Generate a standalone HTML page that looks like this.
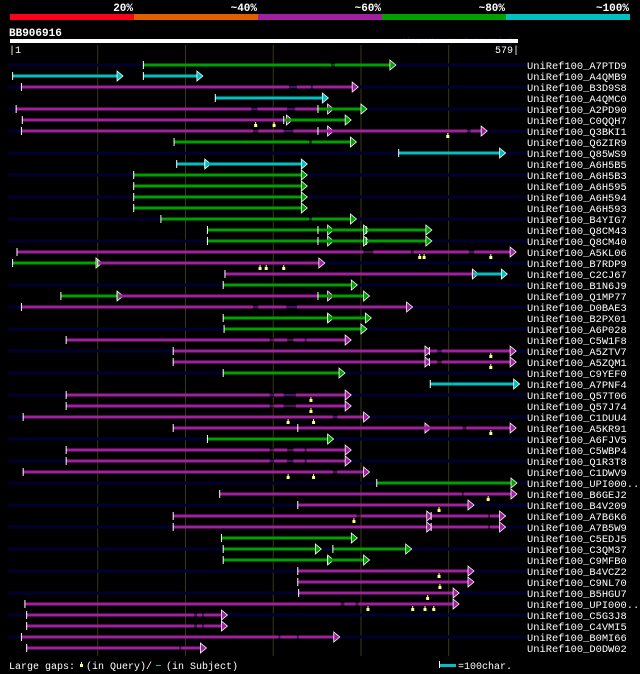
<!DOCTYPE html>
<html><head><meta charset="utf-8">
<style>
html,body{margin:0;padding:0;background:#000;}
body{width:640px;height:674px;overflow:hidden;}
svg{display:block;}
text{font-family:"Liberation Mono","DejaVu Sans Mono",monospace;}
</style></head>
<body>
<svg id="chart" width="640" height="674" viewBox="0 0 640 674" xmlns="http://www.w3.org/2000/svg">
  <g>
    <rect x="10" y="14" width="124" height="6" fill="#ff0018"/>
    <rect x="134" y="14" width="124" height="6" fill="#e06000"/>
    <rect x="258" y="14" width="124" height="6" fill="#a020a0"/>
    <rect x="382" y="14" width="124" height="6" fill="#00a000"/>
    <rect x="506" y="14" width="124" height="6" fill="#00c0c0"/>
    <text x="133" y="11" fill="#fff" font-size="11" font-weight="bold" text-anchor="end">20%</text>
    <text x="257" y="11" fill="#fff" font-size="11" font-weight="bold" text-anchor="end">~40%</text>
    <text x="381" y="11" fill="#fff" font-size="11" font-weight="bold" text-anchor="end">~60%</text>
    <text x="505" y="11" fill="#fff" font-size="11" font-weight="bold" text-anchor="end">~80%</text>
    <text x="629" y="11" fill="#fff" font-size="11" font-weight="bold" text-anchor="end">~100%</text>
  </g>
  <text x="9" y="36" fill="#fff" font-size="11" font-weight="bold">BB906916</text>
  <text x="402" y="43" fill="#10104a" font-size="8">AlignView.pm Beta rel.7</text>
  <rect x="10" y="39" width="508" height="4" fill="#fff"/>
  <text x="9" y="53" fill="#fff" font-size="10">|1</text>
  <text x="519" y="53" fill="#fff" font-size="10" text-anchor="end">579|</text>
  <g id="grid"></g>
  <g id="rows"></g>
  <g>
    <text x="9" y="669" fill="#fff" font-size="10">Large gaps:</text>
    <rect x="80" y="664" width="3" height="3" fill="#ffff80"/><rect x="81" y="662" width="1" height="2" fill="#ffff80"/>
    <text x="86" y="669" fill="#fff" font-size="10">(in Query)/</text>
    <rect x="156" y="665" width="5" height="1" fill="#00c0c0"/>
    <text x="166" y="669" fill="#fff" font-size="10">(in Subject)</text>
    <rect x="440" y="664" width="16" height="3" fill="#00c0c0"/>
    <rect x="439" y="661" width="1" height="7" fill="#fff"/>
    <text x="458" y="669" fill="#fff" font-size="10">=100char.</text>
  </g>
</svg>
<script>
const queryLength = 579;
const gridTicks = [100, 200, 300, 400, 500];
const rowNames = ["A7PTD9","A4QMB9","B3D9S8","A4QMC0","A2PD90","C0QQH7","Q3BKI1","Q6ZIR9","Q85WS9","A6H5B5","A6H5B3","A6H595","A6H594","A6H593","B4YIG7","Q8CM43","Q8CM40","A5KL06","B7RDP9","C2CJ67","B1N6J9","Q1MP77","D0BAE3","B2PX01","A6P028","C5W1F8","A5ZTV7","A5ZQM1","C9YEF0","A7PNF4","Q57T06","Q57J74","C1DUU4","A5KR91","A6FJV5","C5WBP4","Q1R3T8","C1DWV9","UPI000..","B6GEJ2","B4V209","A7B6K6","A7B5W9","C5EDJ5","C3QM37","C9MFB0","B4VCZ2","C9NL70","B5HGU7","UPI000..","C5G3J8","C4VMI5","B0MI66","D0DW02"];
// HSPs per row: [colorKey, [start,end, start,end ...]] in residue units
const rowHsps = [
 [["g",[152,366,370,433]]],
 [["c",[3,122]],["c",[152,213]]],
 [["p",[13,318,327,343,345,390]]],
 [["c",[234,356]]],
 [["p",[7,275,282,316,325,362]],["g",[351,400]]],
 [["p",[14,315]],["g",[312,382]]],
 [["p",[13,277,283,312,323,362]],["p",[351,521,525,537]]],
 [["g",[187,341,344,388]]],
 [["c",[443,558]]],
 [["c",[190,222]],["c",[222,332]]],
 [["g",[141,332]]],
 [["g",[141,332]]],
 [["g",[141,332]]],
 [["g",[141,332]]],
 [["g",[172,341,344,388]]],
 [["g",[225,362]],["g",[351,403]],["g",[406,474]]],
 [["g",[225,362]],["g",[351,403]],["g",[406,474]]],
 [["p",[8,403,414,457,460,523,529,570]]],
 [["g",[3,98]],["p",[100,352]]],
 [["p",[245,527]],["c",[527,560]]],
 [["g",[243,389]]],
 [["g",[58,122]],["p",[122,362]],["g",[351,403]]],
 [["p",[13,277,283,315,327,452]]],
 [["g",[243,362]],["g",[362,405]]],
 [["g",[244,400]]],
 [["p",[64,296,301,316,323,336,338,382]]],
 [["p",[186,473]],["p",[478,487,492,570]]],
 [["p",[186,473]],["p",[478,487,492,570]]],
 [["g",[243,375]]],
 [["c",[479,574]]],
 [["p",[64,296,301,312,326,382]]],
 [["p",[64,296,301,312,326,382]]],
 [["p",[15,368,373,403]]],
 [["p",[186,473]],["p",[328,516,520,570]]],
 [["g",[225,362]]],
 [["p",[64,296,301,316,323,336,338,382]]],
 [["p",[64,296,301,316,323,336,338,382]]],
 [["p",[15,368,373,403]]],
 [["g",[418,571]]],
 [["p",[239,515,517,571]]],
 [["p",[328,522]]],
 [["p",[186,395,400,475]],["p",[480,545,547,558]]],
 [["p",[186,475]],["p",[480,545,547,558]]],
 [["g",[241,389]]],
 [["g",[243,348]],["g",[368,451]]],
 [["g",[243,362]],["g",[362,403]]],
 [["p",[328,522]]],
 [["p",[328,522]]],
 [["p",[329,505]]],
 [["p",[17,377,381,394,397,505]]],
 [["p",[19,210,213,219,221,241]]],
 [["p",[19,210,213,219,221,241]]],
 [["p",[13,306,308,327,329,369]]],
 [["p",[19,193,195,217]]]
];
const queryGaps = [[],[],[],[],[],[280,301],[499],[],[],[],[],[],[],[],[],[],[],[467,472,548],[285,292,312],[],[],[],[],[],[],[],[548],[548],[],[],[343],[343],[317,346],[548],[],[],[],[317,346],[],[545],[489],[392],[],[],[],[],[489],[490],[476],[408,459,473,483],[],[],[],[]];
const colorMap = {g:"#00a000", c:"#00c0c0", p:"#a020a0"};

const NS = "http://www.w3.org/2000/svg";
function xScale(r){ return 10 + r * (508 / queryLength); }
function yRow(i){ return 65 + i * 11; }
function mk(tag, attrs, parent){
  const el = document.createElementNS(NS, tag);
  for (const k in attrs) el.setAttribute(k, attrs[k]);
  parent.appendChild(el);
  return el;
}
const grid = document.getElementById('grid');
gridTicks.forEach(t => {
  const l = mk('line', {x1:xScale(t), x2:xScale(t), y1:45, y2:656, stroke:'#3a3a10', 'stroke-width':1}, grid);
  
  
});
const rows = document.getElementById('rows');
rowNames.forEach((nm, i) => {
  const y = yRow(i);
  const g = mk('g', {}, rows);
  
  
  if (i % 2 === 0) {
    mk('rect', {x:8, y:y-1.5, width:519, height:3, fill:'#000030'}, g);
  }
  rowHsps[i].forEach(h => {
    const col = colorMap[h[0]], s = h[1];
    const hs = mk('g', {}, g);
    
    
    for (let k = 0; k < s.length; k += 2) {
      const x1 = xScale(s[k]), x2 = xScale(s[k+1]);
      mk('rect', {x:x1, y:y-1.5, width:Math.max(1,x2-x1), height:3, fill:col}, hs);
      if (k + 2 < s.length) {
        const nx = xScale(s[k+2]);
        mk('rect', {x:x2, y:y-0.5, width:Math.max(0,nx-x2), height:1, fill:col}, hs);
      }
    }
    const xs = xScale(s[0]), xe = xScale(s[s.length-1]);
    mk('rect', {x:xs-0.5, y:y-4, width:1, height:8, fill:'#fff'}, hs);
    mk('polygon', {points:`${xe},${y-5} ${xe+6},${y} ${xe},${y+5}`, fill:col, stroke:'#fff', 'stroke-width':0.8}, hs);
  });
  queryGaps[i].forEach(q => {
    const gm = mk('g', {}, g);
    
    
    mk('rect', {x:xScale(q)-0.5, y:y+2, width:1, height:2, fill:'#ffff80'}, gm);
    mk('rect', {x:xScale(q)-1.5, y:y+4, width:3, height:3, fill:'#ffff80'}, gm);
  });
  const t = mk('text', {x:527, y:y+4, fill:'#fff', 'font-size':'10.4'}, g);
  
  
  t.textContent = 'UniRef100_' + nm;
});
</script>
</body></html>
